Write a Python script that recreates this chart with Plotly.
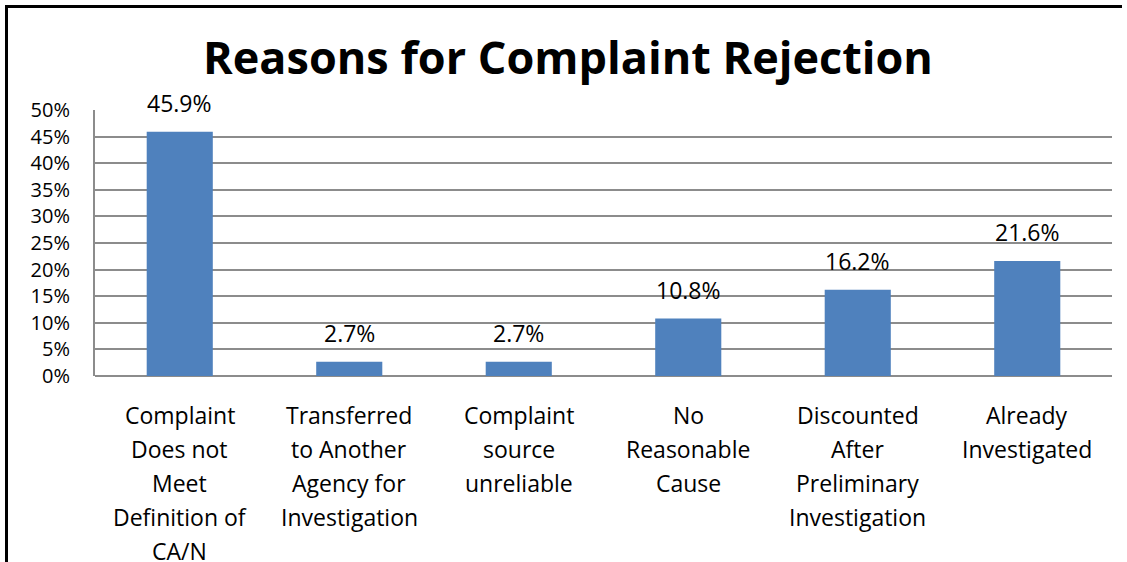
import plotly.graph_objects as go

categories = [
    "Complaint<br>Does not<br>Meet<br>Definition of<br>CA/N",
    "Transferred<br>to Another<br>Agency for<br>Investigation",
    "Complaint<br>source<br>unreliable",
    "No<br>Reasonable<br>Cause",
    "Discounted<br>After<br>Preliminary<br>Investigation",
    "Already<br>Investigated",
]
values = [45.9, 2.7, 2.7, 10.8, 16.2, 21.6]
value_labels = ["45.9%", "2.7%", "2.7%", "10.8%", "16.2%", "21.6%"]
y_ticks = [0, 5, 10, 15, 20, 25, 30, 35, 40, 45, 50]

W, H = 1127, 562
REF_L, REF_R, REF_T, REF_B = 95, 1112, 110, 376
L, T = REF_L, REF_T
R = W - REF_R
B = H - REF_B
pw, ph = W - L - R, H - T - B

def px_x(px):
    return (px - L) / pw

def px_y(py):
    return (H - B - py) / ph

FONT = "Open Sans"
BAR = "#4F81BD"
GRID = "#8C8C8C"
FS = 23

fig = go.Figure()
fig.add_trace(go.Bar(
    x=list(range(len(categories))), y=values,
    marker=dict(color=BAR, line=dict(width=0)),
    width=0.39, hoverinfo="skip",
))

annotations = []
for i, (v, lab) in enumerate(zip(values, value_labels)):
    annotations.append(dict(
        x=i, y=v, xref="x", yref="y", text=lab, showarrow=False,
        yanchor="bottom", yshift=11,
        font=dict(family=FONT, size=FS, color="#000000"),
    ))
    for j, line in enumerate(categories[i].split("<br>")):
        annotations.append(dict(
            x=i, y=px_y(415), xref="x", yref="paper", text=line,
            showarrow=False, yanchor="middle", yshift=-34 * j,
            font=dict(family=FONT, size=FS, color="#000000"),
        ))

fig.update_layout(
    width=W, height=H,
    margin=dict(l=L, r=R, t=T, b=B),
    paper_bgcolor="white", plot_bgcolor="white",
    showlegend=False,
    title=dict(
        text="<b>Reasons for Complaint Rejection</b>",
        x=(568 - L) / pw, xanchor="center", xref="paper",
        y=1 - 58 / H, yanchor="middle", yref="container",
        font=dict(family="Open Sans", size=45, color="#000000"),
    ),
    xaxis=dict(
        range=[-0.5, len(categories) - 0.5],
        showticklabels=False, showgrid=False, zeroline=False,
        showline=False, fixedrange=True,
    ),
    yaxis=dict(
        range=[0, 50], tickvals=y_ticks,
        ticktext=[f"{t}%" for t in y_ticks],
        showgrid=True, gridcolor=GRID, gridwidth=2,
        zeroline=True, zerolinecolor=GRID, zerolinewidth=2,
        showline=True, linecolor=GRID, linewidth=2,
        ticks="", ticklabelstandoff=19,
        tickfont=dict(family=FONT, size=20, color="#000000"),
        fixedrange=True,
    ),
    annotations=annotations,
    shapes=[
        dict(type="line", xref="paper", yref="paper",
             x0=px_x(6.5), x1=px_x(6.5), y0=px_y(5), y1=px_y(600),
             line=dict(color="#000000", width=3)),
        dict(type="line", xref="paper", yref="paper",
             x0=px_x(5), x1=px_x(1122), y0=px_y(6.5), y1=px_y(6.5),
             line=dict(color="#000000", width=3)),
    ],
)

fig.write_html(
    "out.html",
    config={"displayModeBar": False, "staticPlot": True},
    post_script="document.body.style.margin='0px';document.body.style.padding='0px';",
)
